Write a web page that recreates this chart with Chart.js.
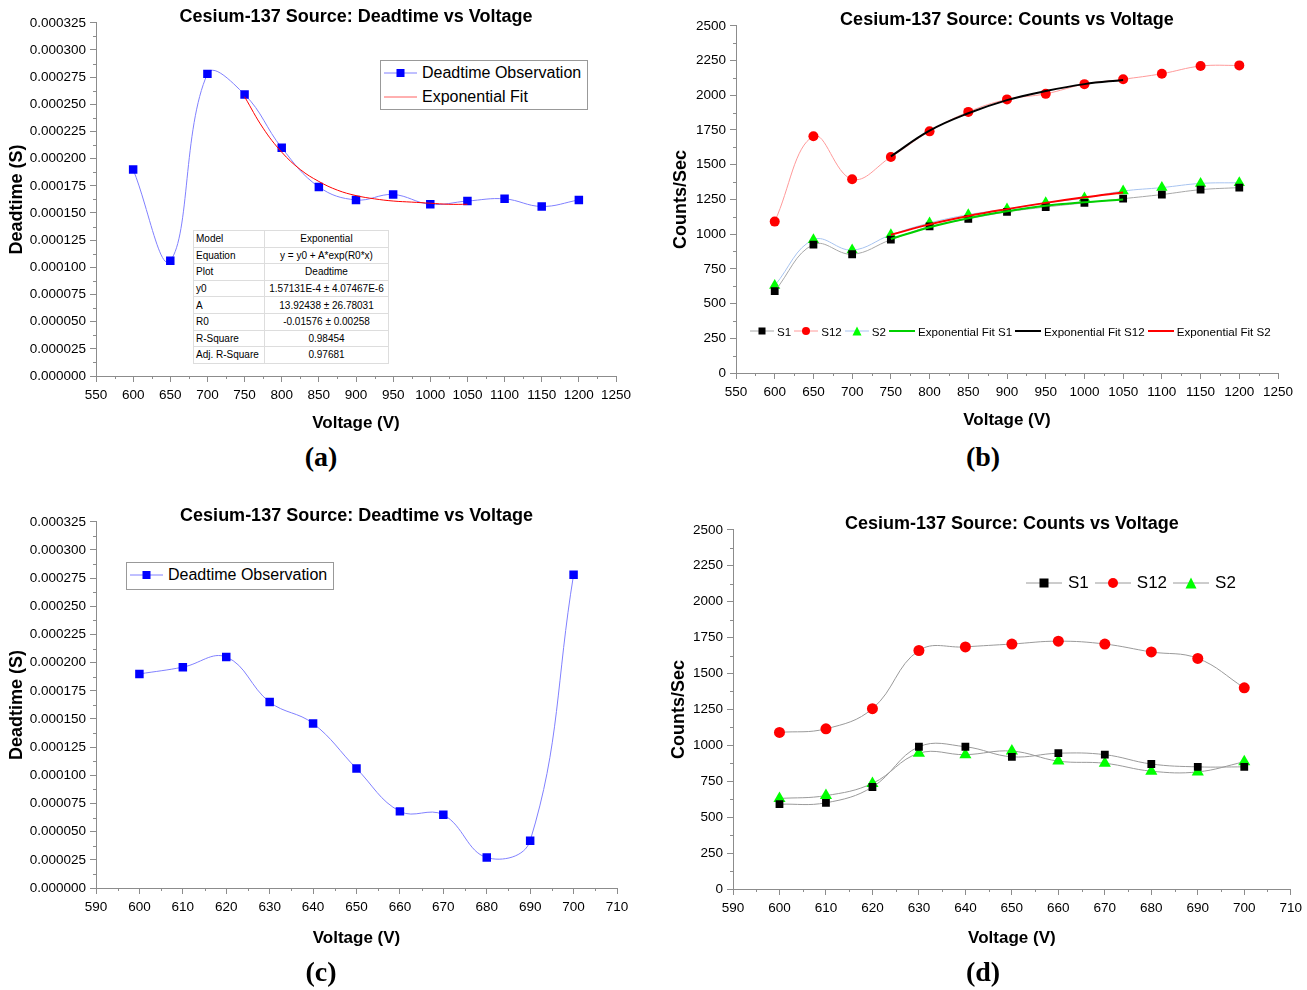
<!DOCTYPE html>
<html>
<head>
<meta charset="utf-8">
<script src="https://cdn.jsdelivr.net/npm/chart.js@4.4.0/dist/chart.umd.min.js"></script>
<style>
  body { margin: 0; background: #fff; width: 1307px; height: 990px; position: relative; overflow: hidden; }
  .panel { position: absolute; }
  .tag { position: absolute; font-family: 'Liberation Serif', 'Times New Roman', serif; font-weight: bold; font-size: 28px; transform: translate(-50%, -50%); }
  .legend { position: absolute; font-family: 'Liberation Sans', Arial, sans-serif; color: #000; white-space: nowrap; }
  .legend .row { display: flex; align-items: center; white-space: nowrap; }
  .legend svg { display: block; flex-shrink: 0; }
  .boxed { border: 1px solid #999; background: #fff; }
  table.fit { position: absolute; border-collapse: collapse; font-family: 'Liberation Sans', Arial, sans-serif; font-size: 10px; background: #fff; border: 1px solid #888; white-space: nowrap; }
  table.fit td { border: 1px solid #ddd; padding: 0 2px; height: 15.6px; line-height: 15px; }
  table.fit td:nth-child(2) { text-align: center; padding: 0; }
</style>
</head>
<body>

<div class="panel" style="left:0;top:0"><canvas id="chartA" width="650" height="440"></canvas></div>
<div class="panel" style="left:650px;top:0"><canvas id="chartB" width="657" height="440"></canvas></div>
<div class="panel" style="left:0;top:490px"><canvas id="chartC" width="650" height="470"></canvas></div>
<div class="panel" style="left:650px;top:490px"><canvas id="chartD" width="657" height="470"></canvas></div>

<div class="tag" style="left:321px;top:457px">(a)</div>
<div class="tag" style="left:983px;top:457px">(b)</div>
<div class="tag" style="left:321px;top:972px">(c)</div>
<div class="tag" style="left:983px;top:972px">(d)</div>

<table class="fit" style="left:193px;top:230px;width:196px">
  <tr><td style="width:66px">Model</td><td>Exponential</td></tr>
  <tr><td>Equation</td><td>y = y0 + A*exp(R0*x)</td></tr>
  <tr><td>Plot</td><td>Deadtime</td></tr>
  <tr><td>y0</td><td>1.57131E-4 ± 4.07467E-6</td></tr>
  <tr><td>A</td><td>13.92438 ± 26.78031</td></tr>
  <tr><td>R0</td><td>-0.01576 ± 0.00258</td></tr>
  <tr><td>R-Square</td><td>0.98454</td></tr>
  <tr><td>Adj. R-Square</td><td>0.97681</td></tr>
</table>

<div id="legendA" class="legend boxed" style="left:380px;top:60px;width:206px;height:48px;font-size:16px"></div>
<div id="legendB" class="legend" style="left:750px;top:323px;font-size:11.6px"></div>
<div id="legendC" class="legend boxed" style="left:126px;top:562px;width:206px;height:26px;font-size:16px"></div>
<div id="legendD" class="legend" style="left:1026px;top:573px;font-size:17px"></div>

<script>
// panel (a): deadtime, 600-1200 V
const voltsWide = [600, 650, 700, 750, 800, 850, 900, 950, 1000, 1050, 1100, 1150, 1200];
const deadtimeWide = [0.000190, 0.000106, 0.000278, 0.000259, 0.000210, 0.000174, 0.000162,
  0.000167, 0.000158, 0.000161, 0.000163, 0.000156, 0.000162];
// exponential fit curve
const deadFitVolts = [750, 775, 800, 825, 850, 875, 900, 925, 950, 975, 1000, 1025, 1050];
const deadFitValues = [0.000257, 0.000228, 0.000206, 0.000190, 0.000179, 0.000171, 0.000166,
  0.000163, 0.000161, 0.000160, 0.000159, 0.000158, 0.000158];

// panel (b): counts, 600-1200 V
const s1Wide = [590, 925, 855, 960, 1055, 1110, 1160, 1195, 1225, 1255, 1285, 1320, 1335];
const s12Wide = [1090, 1705, 1395, 1555, 1740, 1880, 1970, 2010, 2080, 2115, 2155, 2210, 2215];
const s2Wide = [630, 960, 885, 995, 1080, 1140, 1180, 1225, 1260, 1310, 1335, 1365, 1370];
const countFitVolts = [750, 800, 850, 900, 950, 1000, 1050];
const fitS1 = [965, 1050, 1115, 1165, 1205, 1230, 1250];
const fitS12 = [1560, 1745, 1870, 1965, 2030, 2080, 2110];
const fitS2 = [995, 1070, 1130, 1180, 1225, 1265, 1300];

// panels (c) and (d): 600-700 V in 10 V steps
const voltsNarrow = [600, 610, 620, 630, 640, 650, 660, 670, 680, 690, 700];
const deadtimeNarrow = [0.000190, 0.000196, 0.000205, 0.000165, 0.000146, 0.000106, 0.000068,
  0.000065, 0.000027, 0.000042, 0.000278];
const s1Narrow = [590, 600, 710, 990, 990, 920, 945, 935, 870, 850, 850];
const s12Narrow = [1090, 1115, 1255, 1660, 1685, 1705, 1725, 1705, 1650, 1605, 1400];
const s2Narrow = [630, 650, 735, 945, 935, 960, 890, 875, 820, 815, 885];

const FONT = "'Liberation Sans', Arial, sans-serif";
const AXIS = '#8c8c8c';

const xy = (xs, ys) => xs.map((x, i) => ({ x: x, y: ys[i] }));

// half-step ticks like Origin draws
const minorTicks = {
  id: 'minorTicks',
  afterDraw(chart) {
    const ctx = chart.ctx;
    ctx.save();
    ctx.strokeStyle = AXIS;
    ctx.lineWidth = 1;
    ['x', 'y'].forEach(id => {
      const s = chart.scales[id];
      const t = s.ticks;
      for (let i = 0; i < t.length - 1; i++) {
        const p = Math.round(s.getPixelForValue((t[i].value + t[i + 1].value) / 2)) + 0.5;
        ctx.beginPath();
        if (id === 'x') { ctx.moveTo(p, s.top); ctx.lineTo(p, s.top + 3); }
        else { ctx.moveTo(s.right - 3, p); ctx.lineTo(s.right, p); }
        ctx.stroke();
      }
    });
    ctx.restore();
  }
};

function makeChart(id, c) {
  const canvas = document.getElementById(id);
  const H = canvas.height, W = canvas.width;
  return new Chart(canvas, {
    type: 'line',
    data: { datasets: c.datasets },
    options: {
      responsive: false,
      animation: false,
      layout: { padding: { left: 0, right: W - c.area.right, top: 0, bottom: 0 } },
      plugins: {
        legend: { display: false },
        tooltip: { enabled: false },
        title: {
          display: true,
          text: c.title,
          fullSize: false,
          color: '#000',
          font: { family: FONT, size: 18, weight: 'bold', lineHeight: 0.6 },
          padding: { top: c.area.top - 10, bottom: 0 }
        }
      },
      scales: {
        x: {
          type: 'linear',
          min: c.xMin, max: c.xMax,
          afterFit: s => { s.height = H - c.area.bottom; },
          border: { color: AXIS },
          grid: { drawOnChartArea: false, tickLength: 6, color: AXIS, tickColor: AXIS },
          ticks: { stepSize: c.xStep, autoSkip: false, maxRotation: 0, color: '#000', padding: 5,
            font: { family: FONT, size: 13.5 }, callback: v => String(v) },
          title: { display: true, text: 'Voltage (V)', color: '#000',
            font: { family: FONT, size: 17, weight: 'bold' }, padding: { top: 0, bottom: c.xTitlePad } }
        },
        y: {
          min: c.yMin, max: c.yMax,
          afterFit: s => { s.width = c.area.left; },
          border: { color: AXIS },
          grid: { drawOnChartArea: false, tickLength: 6, color: AXIS, tickColor: AXIS },
          ticks: { stepSize: c.yStep, autoSkip: false, color: '#000', padding: 4,
            font: { family: FONT, size: 13.5 }, callback: c.yFormat },
          title: { display: true, text: c.yTitle, color: '#000',
            font: { family: FONT, size: 18, weight: 'bold' }, padding: { top: c.yTitlePad, bottom: 0 } }
        }
      }
    },
    plugins: [minorTicks]
  });
}

function series(data, line, point, style, radius, extra) {
  return Object.assign({
    data: data, borderColor: line, borderWidth: 1, tension: 0.4,
    pointStyle: style, pointRadius: radius, pointBackgroundColor: point, pointBorderColor: point,
    pointBorderWidth: 0
  }, extra || {});
}
function fitLine(data, color, width) {
  return { data: data, borderColor: color, borderWidth: width, tension: 0.4, pointRadius: 0, order: 0 };
}

const deadFmt = v => v.toFixed(6);
const countFmt = v => String(Math.round(v));

makeChart('chartA', {
  area: { left: 96, right: 616, top: 22, bottom: 376 },
  title: 'Cesium-137 Source: Deadtime vs Voltage',
  xMin: 550, xMax: 1250, xStep: 50,
  yMin: 0, yMax: 0.000325, yStep: 0.000025, yFormat: deadFmt,
  yTitle: 'Deadtime (S)', yTitlePad: 6, xTitlePad: 6,
  datasets: [
    fitLine(xy(deadFitVolts, deadFitValues), '#ff0000', 1),
    series(xy(voltsWide, deadtimeWide), '#8080ff', '#0000ff', 'rect', 6, { order: 1 })
  ]
});

makeChart('chartB', {
  area: { left: 86, right: 628, top: 25, bottom: 373 },
  title: 'Cesium-137 Source: Counts vs Voltage',
  xMin: 550, xMax: 1250, xStep: 50,
  yMin: 0, yMax: 2500, yStep: 250, yFormat: countFmt,
  yTitle: 'Counts/Sec', yTitlePad: 20, xTitlePad: 9,
  datasets: [
    fitLine(xy(countFitVolts, fitS1), '#00d000', 2),
    fitLine(xy(countFitVolts, fitS12), '#000000', 2),
    fitLine(xy(countFitVolts, fitS2), '#ff0000', 2),
    series(xy(voltsWide, s1Wide), '#a8a8a8', '#000000', 'rect', 5.5, { order: 1 }),
    series(xy(voltsWide, s12Wide), '#ff9a9a', '#ff0000', 'circle', 5, { order: 1 }),
    series(xy(voltsWide, s2Wide), '#a8c4f0', '#00ff00', 'triangle', 6.5, { order: 1 })
  ]
});

makeChart('chartC', {
  area: { left: 96, right: 617, top: 31, bottom: 398 },
  title: 'Cesium-137 Source: Deadtime vs Voltage',
  xMin: 590, xMax: 710, xStep: 10,
  yMin: 0, yMax: 0.000325, yStep: 0.000025, yFormat: deadFmt,
  yTitle: 'Deadtime (S)', yTitlePad: 6, xTitlePad: 11,
  datasets: [
    series(xy(voltsNarrow, deadtimeNarrow), '#8080ff', '#0000ff', 'rect', 6)
  ]
});

makeChart('chartD', {
  area: { left: 83, right: 641, top: 39, bottom: 399 },
  title: 'Cesium-137 Source: Counts vs Voltage',
  xMin: 590, xMax: 710, xStep: 10,
  yMin: 0, yMax: 2500, yStep: 250, yFormat: countFmt,
  yTitle: 'Counts/Sec', yTitlePad: 18, xTitlePad: 11,
  datasets: [
    series(xy(voltsNarrow, s1Narrow), '#9a9a9a', '#000000', 'rect', 5.5),
    series(xy(voltsNarrow, s12Narrow), '#9a9a9a', '#ff0000', 'circle', 5.5),
    series(xy(voltsNarrow, s2Narrow), '#9a9a9a', '#00ff00', 'triangle', 7)
  ]
});

// legend symbols as small svg pieces
function symbol(lineColor, lineW, len, marker, fill, size) {
  let m = '';
  const cx = len / 2, cy = 8;
  if (marker === 'rect') m = `<rect x="${cx - size / 2}" y="${cy - size / 2}" width="${size}" height="${size}" fill="${fill}"/>`;
  if (marker === 'circle') m = `<circle cx="${cx}" cy="${cy}" r="${size / 2}" fill="${fill}"/>`;
  if (marker === 'triangle') m = `<polygon points="${cx},${cy - size / 2} ${cx + size / 2},${cy + size / 2} ${cx - size / 2},${cy + size / 2}" fill="${fill}"/>`;
  return `<svg width="${len}" height="16"><line x1="0" y1="${cy}" x2="${len}" y2="${cy}" stroke="${lineColor}" stroke-width="${lineW}"/>${m}</svg>`;
}
function legend(id, items, gap, vertical) {
  const el = document.getElementById(id);
  el.innerHTML = items.map(it =>
    `<span class="row" style="${vertical ? 'height:' + vertical + 'px;padding-left:3px' : 'display:inline-flex;margin-right:' + gap + 'px'}">` +
    symbol(it[1], it[2], it[3], it[4], it[5], it[6]) +
    `<span style="margin-left:${gap}px">${it[0]}</span></span>`).join('');
}

legend('legendA', [
  ['Deadtime Observation', '#8080ff', 1, 33, 'rect', '#0000ff', 8],
  ['Exponential Fit', '#ff6060', 1, 33, null, null, 0]
], 5, 24);
legend('legendB', [
  ['S1', '#a8a8a8', 1, 24, 'rect', '#000000', 7],
  ['S12', '#ff9a9a', 1, 24, 'circle', '#ff0000', 8],
  ['S2', '#a8c4f0', 1, 24, 'triangle', '#00ff00', 9],
  ['Exponential Fit S1', '#00d000', 2, 26, null, null, 0],
  ['Exponential Fit S12', '#000000', 2, 26, null, null, 0],
  ['Exponential Fit S2', '#ff0000', 2, 26, null, null, 0]
], 3);
legend('legendC', [
  ['Deadtime Observation', '#8080ff', 1, 33, 'rect', '#0000ff', 8]
], 5, 24);
legend('legendD', [
  ['S1', '#9a9a9a', 1, 36, 'rect', '#000000', 9],
  ['S12', '#9a9a9a', 1, 36, 'circle', '#ff0000', 10],
  ['S2', '#9a9a9a', 1, 36, 'triangle', '#00ff00', 11]
], 6);
</script>
</body>
</html>
